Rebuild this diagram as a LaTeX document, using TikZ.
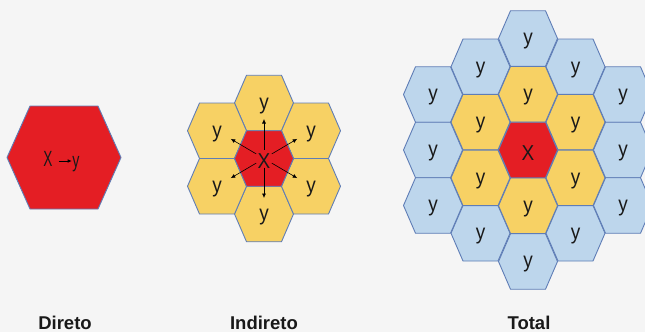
\documentclass[tikz,border=0pt]{standalone}
\usepackage{fontspec}
\setmainfont{Liberation Sans}
\usetikzlibrary{arrows.meta}
\definecolor{hexred}{RGB}{228,30,36}
\definecolor{hexyel}{RGB}{247,209,100}
\definecolor{hexblue}{RGB}{189,214,236}
\definecolor{hexline}{RGB}{95,125,182}
\definecolor{bgcol}{RGB}{245,245,245}
\definecolor{ink}{RGB}{25,25,25}
\tikzset{
  cell/.style={draw=hexline, line width=0.9pt, line join=round},
  lab/.style={inner sep=0pt, text=ink, font=\fontsize{20}{20}\selectfont},
  caption/.style={inner sep=0pt, anchor=base, text=ink, font=\fontsize{18.5}{20}\selectfont\bfseries},
  radial/.style={-{Latex[length=4.5pt,width=4pt]}, line width=0.6pt, black,
    shorten <=9pt, shorten >=16pt},
  direct/.style={-{Latex[length=4pt,width=3.5pt]}, line width=0.6pt, black}
}
\newcommand\tallish[1]{\scalebox{0.95}[1.08]{#1}}
% hex cell: x, y, fill, name, label text
\newcommand\hexcell[5]{%
  \path[cell, fill=#3] (#1,#2) +(-29.5,0) -- +(-17.5,-27.75) -- +(17.5,-27.75)
     -- +(29.5,0) -- +(17.5,27.75) -- +(-17.5,27.75) -- cycle;
  \coordinate (#4) at (#1,#2);
  \node[lab] (#4l) at ([yshift=-3pt]#4) {\tallish{#5}};
}
\begin{document}
\begin{tikzpicture}[x=1pt,y=-1pt]
\useasboundingbox (0,0) rectangle (645,332);
\fill[bgcol] (0,0) rectangle (645,332);

% ---------- Direto ----------
\path[cell, fill=hexred] (64,157.5) +(-57,0) -- +(-34,-51.5) -- +(34,-51.5)
   -- +(57,0) -- +(34,51.5) -- +(-34,51.5) -- cycle;
\node[inner sep=0pt, anchor=base, text=ink, font=\fontsize{22}{22}\selectfont] (lx) at (48,166) {\scalebox{0.62}[1]{X}};
\node[inner sep=0pt, anchor=base, text=ink, font=\fontsize{21}{22}\selectfont] (ly) at (76,167) {\scalebox{0.68}[1]{y}};
\draw[direct] ([shift={(6,-5)}]lx.base east) -- ([shift={(-0.5,-6)}]ly.base west);

% ---------- Indireto ----------
\hexcell{264}{103}{hexyel}{mt}{y}
\hexcell{264}{214}{hexyel}{mb}{y}
\hexcell{217}{130.75}{hexyel}{mul}{y}
\hexcell{311}{130.75}{hexyel}{mur}{y}
\hexcell{217}{186.25}{hexyel}{mll}{y}
\hexcell{311}{186.25}{hexyel}{mlr}{y}
\hexcell{264}{158.5}{hexred}{mc}{X}
\foreach \t in {mt,mb,mul,mur,mll,mlr}
  \draw[radial] (mc) -- (\t);

% ---------- Total ----------
% outer ring (blue)
\hexcell{528}{38.5}{hexblue}{b1}{y}
\hexcell{528}{261.5}{hexblue}{b2}{y}
\hexcell{480.5}{66.75}{hexblue}{b3}{y}
\hexcell{575.5}{66.75}{hexblue}{b4}{y}
\hexcell{480.5}{233.25}{hexblue}{b5}{y}
\hexcell{575.5}{233.25}{hexblue}{b6}{y}
\hexcell{433}{94.5}{hexblue}{b7}{y}
\hexcell{433}{150}{hexblue}{b8}{y}
\hexcell{433}{205.5}{hexblue}{b9}{y}
\hexcell{623}{94.5}{hexblue}{b10}{y}
\hexcell{623}{150}{hexblue}{b11}{y}
\hexcell{623}{205.5}{hexblue}{b12}{y}
% inner ring (yellow)
\hexcell{528}{94.25}{hexyel}{t1}{y}
\hexcell{528}{205.75}{hexyel}{t2}{y}
\hexcell{480.5}{122.1}{hexyel}{t3}{y}
\hexcell{575.5}{122.1}{hexyel}{t4}{y}
\hexcell{480.5}{177.9}{hexyel}{t5}{y}
\hexcell{575.5}{177.9}{hexyel}{t6}{y}
% centre
\hexcell{528}{150}{hexred}{tc}{X}

% ---------- captions ----------
\node[caption] (c1) at (65,329) {Direto};
\node[caption] (c2) at (264,329) {Indireto};
\node[caption] (c3) at (529,329) {Total};
\end{tikzpicture}
\end{document}
